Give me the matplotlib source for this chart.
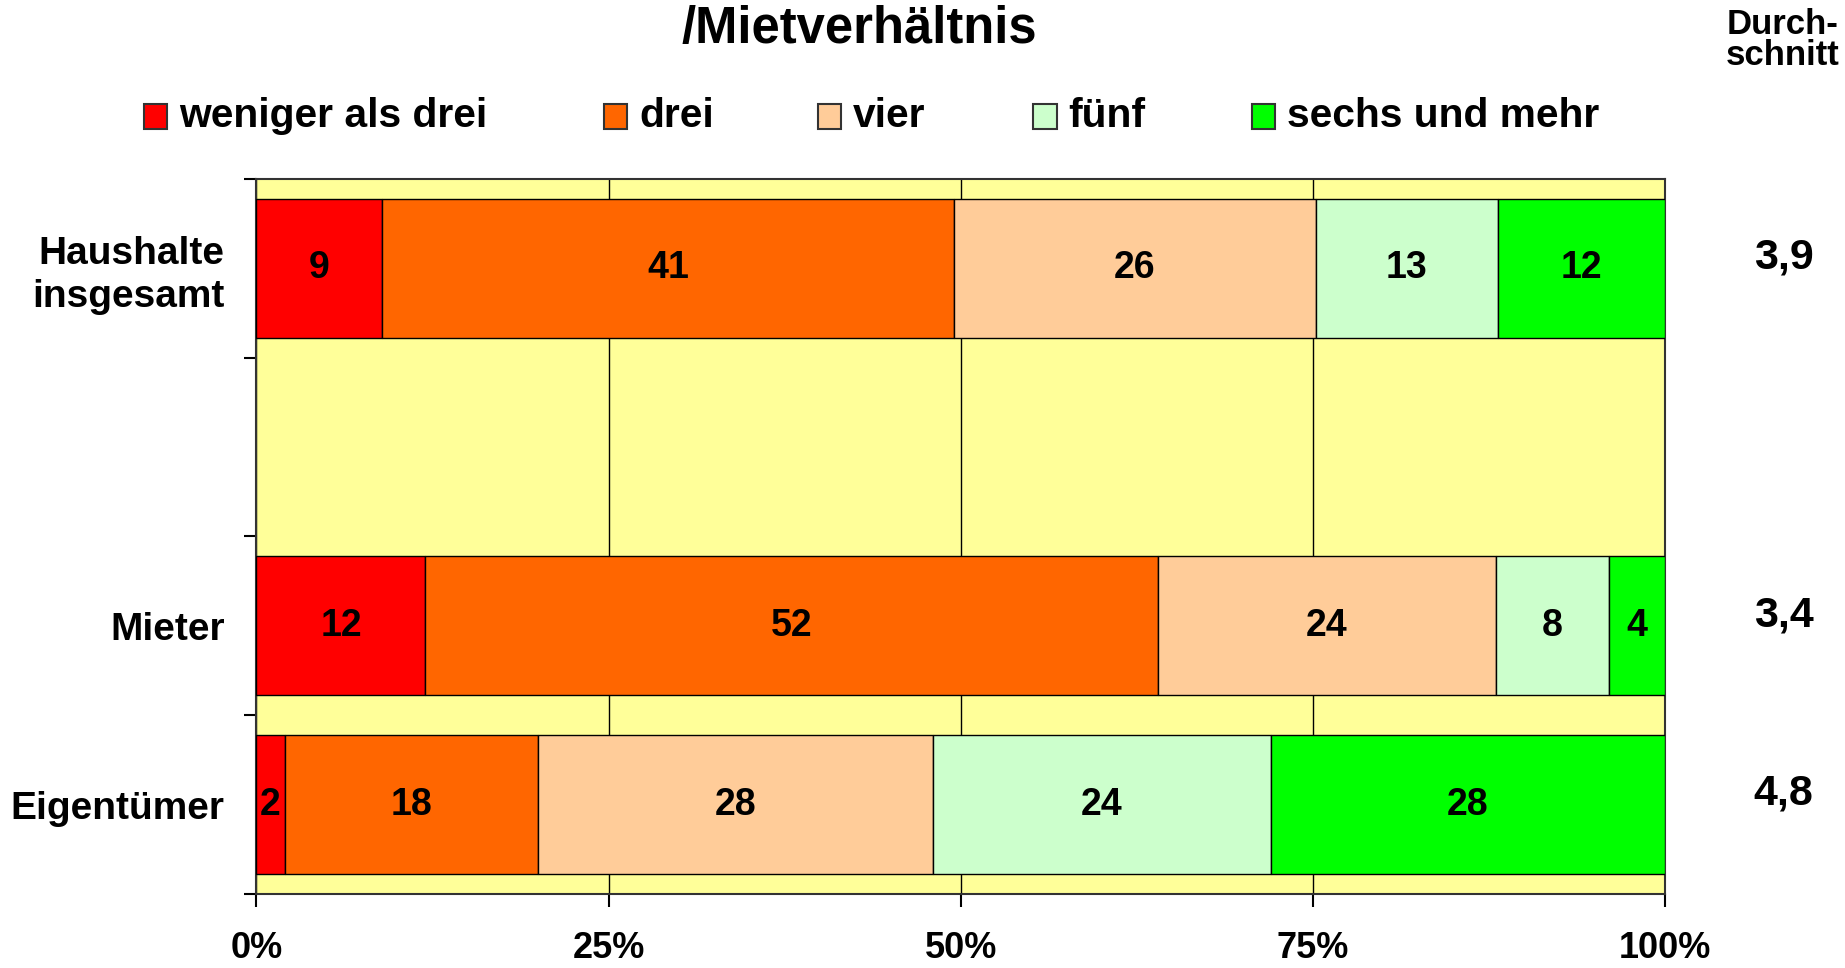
import matplotlib
matplotlib.use('Agg')
import matplotlib.pyplot as plt
import numpy as np
from matplotlib.patches import Rectangle
from matplotlib.transforms import blended_transform_factory

plt.rcParams['font.family'] = ['Liberation Sans', 'DejaVu Sans']
plt.rcParams['font.weight'] = 'bold'

# Data
categories = ['Haushalte\ninsgesamt', '', 'Mieter', 'Eigentümer']
series_names = ['weniger als drei', 'drei', 'vier', 'fünf', 'sechs und mehr']
weniger_als_drei = [9, None, 12, 2]
drei = [41, None, 52, 18]
vier = [26, None, 24, 28]
fuenf = [13, None, 8, 24]
sechs_und_mehr = [12, None, 4, 28]
averages = ['3,9', None, '3,4', '4,8']
x_ticks = [0, 25, 50, 75, 100]
x_ticklabels = ['0%', '25%', '50%', '75%', '100%']

COLORS = ['#FF0000', '#FF6600', '#FFCC99', '#CCFFCC', '#00FF00']
BG = '#FFFF99'

series = [weniger_als_drei, drei, vier, fuenf, sechs_und_mehr]

fig = plt.figure(figsize=(18.45, 9.68), dpi=100)
ax = fig.add_axes([0.139, 0.0765, 0.7634, 0.7388])
ax.set_facecolor(BG)

# 100% stacked bars (values normalised per row like the original)
for i in range(len(categories)):
    row = [s[i] for s in series]
    if row[0] is None:
        continue
    total = float(sum(row))
    left = 0.0
    for v, col in zip(row, COLORS):
        share = v / total * 100
        ax.barh(i, share, left=left, height=0.776, color=col,
                edgecolor='black', linewidth=1, zorder=3)
        ax.text(left + share / 2, i, str(v), ha='center', va='center',
                fontsize=27, fontweight='bold', color='black', zorder=4)
        left += share

ax.set_xlim(0, 100)
ax.set_ylim(len(categories) - 0.5, -0.5)

ax.set_xticks(x_ticks)
ax.set_xticklabels(x_ticklabels)
ax.tick_params(axis='x', length=9, width=1.5, pad=18, labelsize=26)

ax.set_yticks(np.arange(len(categories) + 1) - 0.5)
ax.set_yticklabels([])
ax.set_yticks(np.arange(len(categories)), minor=True)
ax.set_yticklabels(categories, minor=True)
ax.tick_params(axis='y', which='major', length=9, width=1.5)
ax.tick_params(axis='y', which='minor', length=0, pad=23, labelsize=28)
for lab in ax.get_yticklabels(minor=True):
    lab.set_multialignment('right')
    lab.set_linespacing(1.25)

ax.set_axisbelow(True)
ax.xaxis.grid(True, color='black', linewidth=1)

for sp in ax.spines.values():
    sp.set_color('#333333')
    sp.set_linewidth(1.5)

# averages on the right
trans = blended_transform_factory(fig.transFigure, ax.transData)
for i, a in enumerate(averages):
    if a is None:
        continue
    ax.text(0.9668, i - 0.06, a, transform=trans, ha='center', va='center',
            fontsize=31, fontweight='bold', clip_on=False)

fig.text(0.9660, 0.9587, 'Durch-\nschnitt', ha='center', va='center',
         fontsize=25, fontweight='bold', linespacing=0.95)

# title
fig.text(0.4656, 0.9700, '/Mietverhältnis', ha='center', va='center',
         fontsize=36.5, fontweight='bold')

# legend drawn by hand
leg_x = [122, 513, 695, 878, 1064]
leg_y = 0.8800
sq_w = 20 / 1568
sq_h = 21 / 823
for xs, name, col in zip(leg_x, series_names, COLORS):
    x0 = xs / 1568
    fig.patches.append(Rectangle((x0, leg_y - sq_h / 2), sq_w, sq_h,
                                 transform=fig.transFigure, facecolor=col,
                                 edgecolor='#333333', linewidth=1.5))
    fig.text(x0 + sq_w + 10 / 1568, leg_y, name, ha='left', va='center',
             fontsize=29.3, fontweight='bold')

fig.savefig('out.png', dpi=100, facecolor='white')
